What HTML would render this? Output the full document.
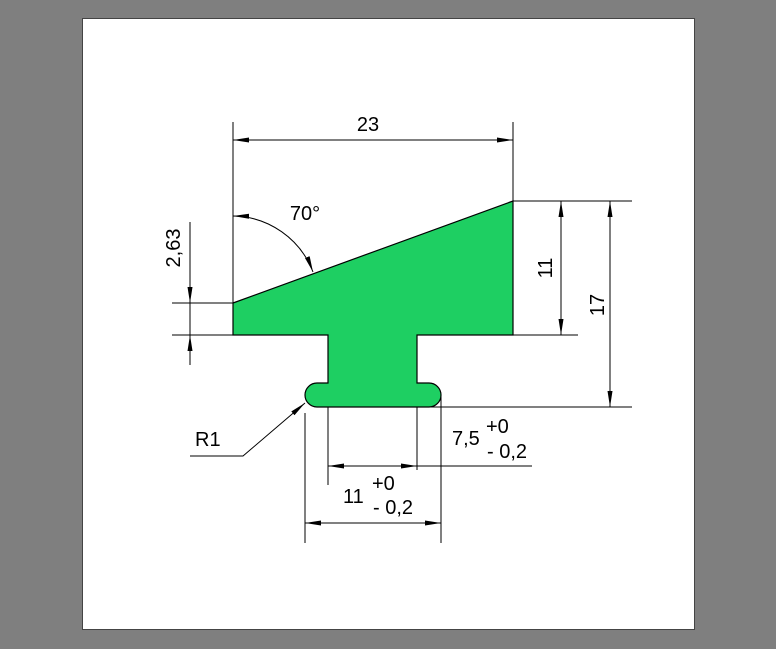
<!DOCTYPE html>
<html><head><style>html,body{margin:0;padding:0;background:#7f7f7f;}svg{display:block}</style></head><body>
<svg width="776" height="649" viewBox="0 0 776 649" xmlns="http://www.w3.org/2000/svg" font-family="Liberation Sans, Arial, sans-serif">
<rect x="0" y="0" width="776" height="649" fill="#7f7f7f"/>
<rect x="82.5" y="18.5" width="612" height="611" fill="#fff" stroke="#444"/>
<defs>
<marker id="a" viewBox="0 0 16 6" refX="16" refY="3" markerWidth="16" markerHeight="6" markerUnits="userSpaceOnUse" orient="auto-start-reverse"><path d="M0,0.5 L16,3 L0,5.5z" fill="#000"/></marker>
</defs>
<path d="M233,303 L513,201 L513,335 L417,335 L417,383 L429,383 A12,12 0 0 1 429,407 L317,407 A12,12 0 0 1 317,383 L328,383 L328,335 L233,335 Z" fill="#1ecf62" stroke="#000" stroke-width="1.2"/>
<g stroke="#000" stroke-width="1" fill="none">
<line x1="233" y1="122" x2="233" y2="303"/>
<line x1="513" y1="122" x2="513" y2="201"/>
<line x1="233" y1="140" x2="513" y2="140" marker-start="url(#a)" marker-end="url(#a)"/>
<line x1="513" y1="201" x2="632" y2="201"/>
<line x1="513" y1="335" x2="578" y2="335"/>
<line x1="417" y1="407" x2="632" y2="407"/>
<line x1="561" y1="201" x2="561" y2="335" marker-start="url(#a)" marker-end="url(#a)"/>
<line x1="610" y1="201" x2="610" y2="407" marker-start="url(#a)" marker-end="url(#a)"/>
<line x1="172" y1="303" x2="233" y2="303"/>
<line x1="172" y1="335" x2="328" y2="335"/>
<line x1="190" y1="222" x2="190" y2="303" marker-end="url(#a)"/>
<line x1="190" y1="365" x2="190" y2="335" marker-end="url(#a)"/>
<line x1="190" y1="303" x2="190" y2="335"/>
<line x1="328" y1="407" x2="328" y2="485"/>
<line x1="417" y1="407" x2="417" y2="470"/>
<line x1="328" y1="466" x2="417" y2="466" marker-start="url(#a)" marker-end="url(#a)"/>
<line x1="417" y1="466" x2="532" y2="466"/>
<line x1="305" y1="413" x2="305" y2="543"/>
<line x1="441" y1="396" x2="441" y2="543"/>
<line x1="305" y1="523" x2="441" y2="523" marker-start="url(#a)" marker-end="url(#a)"/>
<polyline points="190,456 243,456 305,403" marker-end="url(#a)"/>
<path d="M233,216 A87,87 0 0 1 313,272" marker-start="url(#a)" marker-end="url(#a)"/>
</g>
<g fill="#000" font-size="20">
<text x="368" y="131" text-anchor="middle">23</text>
<text x="305" y="220" text-anchor="middle">70°</text>
<text x="195" y="446">R1</text>
<text transform="translate(552,268) rotate(-90)" text-anchor="middle">11</text>
<text transform="translate(604,305) rotate(-90)" text-anchor="middle">17</text>
<text transform="translate(180,248) rotate(-90)" text-anchor="middle">2,63</text>
<text x="452" y="445">7,5</text>
<text x="486" y="433">+0</text>
<text x="487" y="458">- 0,2</text>
<text x="343" y="503">11</text>
<text x="372" y="490">+0</text>
<text x="373" y="514">- 0,2</text>
</g>
</svg>
</body></html>
